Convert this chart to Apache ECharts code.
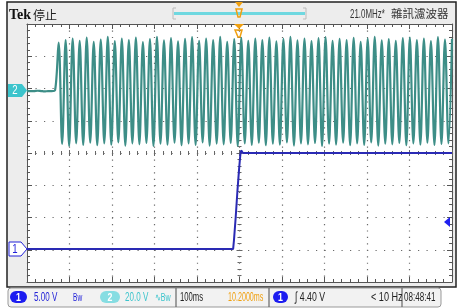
<!DOCTYPE html>
<html>
<head>
<meta charset="utf-8">
<script src="https://cdn.jsdelivr.net/npm/echarts@6/dist/echarts.min.js"></script>
<style>
  html, body { margin: 0; padding: 0; background: #fff; }
  #scope { width: 457px; height: 308px; }
</style>
</head>
<body>
<div id="scope"></div>
<script>
// time axis: 100 ms/div, trigger at centre, values in ms
const timeTicks = [-500, -400, -300, -200, -100, 0, 100, 200, 300, 400, 500]

// channel 1 (5.00 V/div), levels in divisions
const ch1Time = [-500, -15, -13, -9, -5, -1, 2, 4, 8, 500]
const ch1Level = [-2.98, -2.98, -2.7, -2.0, -1.2, -0.5, -0.05, 0.08, 0.0, 0.0]

// channel 2 (20.0 V/div), one sample per half cycle, in divisions
const ch2Level = [
  1.92, 1.92, 1.92, 1.93, 1.92, 1.91, 1.92, 1.92, 1.95,
  3.42, 0.28, 3.5, 0.22, 3.55, 0.3, 3.48, 0.25, 3.58, 0.32, 3.45, 0.24,
  3.52, 0.3, 3.6, 0.26, 3.47, 0.33, 3.55, 0.23, 3.5, 0.3, 3.58, 0.27,
  3.44, 0.31, 3.53, 0.22, 3.6, 0.29, 3.49, 0.26, 3.56, 0.32, 3.46, 0.24,
  3.54, 0.3, 3.59, 0.25, 3.48, 0.33, 3.55, 0.23, 3.5, 0.29, 3.6, 0.27,
  3.45, 0.31, 3.53, 0.22, 3.57, 0.3, 3.48, 0.25, 3.55, 0.32, 3.5, 0.24,
  3.58, 0.29, 3.46, 0.26, 3.54, 0.33, 3.6, 0.23, 3.49, 0.3, 3.55, 0.27,
  3.47, 0.31, 3.56, 0.22, 3.59, 0.29, 3.48, 0.26, 3.54, 0.32, 3.5, 0.24,
  3.57, 0.3, 3.45, 0.25, 3.55, 0.33, 3.6, 0.23, 3.49, 0.29, 3.53, 0.27,
  3.48, 0.31, 3.56, 0.24, 3.58, 0.3, 3.5, 0.26, 3.55, 0.32, 3.47, 0.25,
  3.59, 0.28, 3.52, 0.3, 3.54,
]

const sans = '"Liberation Sans", sans-serif'
const cjk = '"Noto Sans CJK TC", sans-serif'
const blue = '#2222d8'
const cyan = '#3cc4cc'
const orange = '#f0a010'

// text squeezed horizontally, like the scope's condensed readout font
function txt(x, y, text, color, font, sx, align) {
  return {
    type: 'text', x: x, y: y, z: 20, scaleX: sx || 1,
    style: { text: text, fill: color, font: font, textVerticalAlign: 'middle', textAlign: align || 'left' },
  }
}

function pill(x, y, w, fill, label, labelColor) {
  return [
    { type: 'rect', z: 10, shape: { x: x, y: y, width: w, height: 12, r: 6 }, style: { fill: fill } },
    txt(x + w / 2, y + 6.5, label, labelColor, 'bold 11px ' + sans, 0.8, 'center'),
  ]
}

// border axes (ticks on the graticule edge)
function edgeX(pos, grid) {
  return {
    type: 'value', position: pos, min: -500, max: 500, interval: 100,
    axisLine: { show: true, onZero: false, lineStyle: { color: '#555', width: 1 } },
    axisTick: { show: true, inside: true, length: 5, lineStyle: { color: '#555' } },
    minorTick: { show: true, splitNumber: 5, length: 3, lineStyle: { color: '#555' } },
    axisLabel: { show: false },
    splitLine: { show: grid, lineStyle: { color: '#6a6a6a', type: [1.2, 5.25], width: 1.2 } },
  }
}
function edgeY(pos, grid) {
  return {
    type: 'value', position: pos, min: -4, max: 4, interval: 1,
    axisLine: { show: true, onZero: false, lineStyle: { color: '#555', width: 1 } },
    axisTick: { show: true, inside: true, length: 5, lineStyle: { color: '#555' } },
    minorTick: { show: true, splitNumber: 5, length: 3, lineStyle: { color: '#555' } },
    axisLabel: { show: false },
    splitLine: { show: grid, lineStyle: { color: '#6a6a6a', type: [1.2, 7.3], width: 1.2 } },
  }
}
// centre cross axes
function centreX(inside) {
  return {
    type: 'value', position: 'bottom', min: -500, max: 500, interval: 100,
    axisLine: { show: false, onZero: true, onZeroAxisIndex: 0 },
    axisTick: { show: true, inside: inside, length: 3, lineStyle: { color: '#666' } },
    minorTick: { show: true, splitNumber: 5, length: 2, lineStyle: { color: '#666' } },
    axisLabel: { show: false }, splitLine: { show: false },
  }
}
function centreY(inside) {
  return {
    type: 'value', position: 'left', min: -4, max: 4, interval: 1,
    axisLine: { show: false, onZero: true, onZeroAxisIndex: 0 },
    axisTick: { show: true, inside: inside, length: 3, lineStyle: { color: '#666' } },
    minorTick: { show: true, splitNumber: 5, length: 2, lineStyle: { color: '#666' } },
    axisLabel: { show: false }, splitLine: { show: false },
  }
}

const chart = echarts.init(document.getElementById('scope'))
chart.setOption({
  animation: false,
  backgroundColor: '#ffffff',
  grid: {
    left: 27, top: 24, width: 425, height: 258,
    show: true, backgroundColor: '#ffffff', borderWidth: 0,
    outerBoundsMode: 'none',
  },
  xAxis: [
    edgeX('bottom', true),
    edgeX('top', false),
    centreX(true),
    centreX(false),
    { type: 'category', show: false, boundaryGap: false, data: ch2Level.map((_, i) => i) },
  ],
  yAxis: [
    edgeY('left', true),
    edgeY('right', false),
    centreY(true),
    centreY(false),
  ],
  series: [
    {
      name: 'CH2', type: 'line', xAxisIndex: 4, yAxisIndex: 0,
      data: ch2Level, symbol: 'none', z: 3, smooth: 0.35,
      lineStyle: { color: '#3d8e87', width: 2.2 },
    },
    {
      name: 'CH1', type: 'line', xAxisIndex: 0, yAxisIndex: 0,
      data: ch1Time.map((t, i) => [t, ch1Level[i]]), symbol: 'none', z: 4,
      lineStyle: { color: '#2a2ab4', width: 2 },
    },
  ],
  graphic: [
    // instrument frame
    { type: 'rect', z: -10, shape: { x: 7, y: 2, width: 449, height: 285 },
      style: { fill: '#ededed', stroke: '#222', lineWidth: 1.5 } },
    // top status line
    txt(9, 15, 'Tek', '#111', 'bold 14px "Liberation Serif", serif'),
    txt(33, 15, '停止', '#222', '12px ' + cjk),
    { type: 'rect', z: 10, shape: { x: 174, y: 12, width: 131, height: 3 }, style: { fill: '#6fd8e0' } },
    { type: 'polyline', z: 10, shape: { points: [[176, 8], [173, 8], [173, 19], [176, 19]] }, style: { stroke: '#bbb', fill: null } },
    { type: 'polyline', z: 10, shape: { points: [[303, 8], [306, 8], [306, 19], [303, 19]] }, style: { stroke: '#bbb', fill: null } },
    { type: 'polygon', z: 11, shape: { points: [[235, 2], [243, 2], [239, 7]] }, style: { fill: orange } },
    { type: 'polygon', z: 11, shape: { points: [[236, 9], [242, 9], [240, 17], [238, 17]] }, style: { fill: null, stroke: orange, lineWidth: 1.5 } },
    txt(350, 15, '21.0MHz*', '#333', '12px ' + sans, 0.66),
    txt(391, 14, '雜訊濾波器', '#333', '11.5px ' + cjk),
    // trigger position marker on the graticule
    { type: 'polygon', z: 11, shape: { points: [[234, 24], [244, 24], [239, 29]] }, style: { fill: orange } },
    { type: 'polygon', z: 11, shape: { points: [[235, 30], [242, 30], [240, 37], [238, 37]] }, style: { fill: null, stroke: orange, lineWidth: 1.5 } },
    // channel markers
    { type: 'polygon', z: 11, shape: { points: [[8, 84], [22, 84], [27, 90.5], [22, 97], [8, 97]] }, style: { fill: cyan } },
    txt(15, 91, '2', '#fff', '12px ' + sans, 0.8, 'center'),
    { type: 'polygon', z: 11, shape: { points: [[9, 242], [21, 242], [27, 249], [21, 256], [9, 256]] }, style: { fill: '#fff', stroke: blue, lineWidth: 1 } },
    txt(15, 249.5, '1', blue, '12px ' + sans, 0.8, 'center'),
    // trigger level marker
    { type: 'polygon', z: 11, shape: { points: [[444, 222], [450, 217], [450, 227]] }, style: { fill: '#2020f0' } },
    // bottom readout bar
    { type: 'rect', z: -5, shape: { x: 8, y: 288, width: 433, height: 19, r: 3 }, style: { fill: '#f2f2f2', stroke: '#999', lineWidth: 1 } },
    { type: 'line', z: 10, shape: { x1: 176, y1: 288, x2: 176, y2: 307 }, style: { stroke: '#666', lineWidth: 1.2 } },
    { type: 'line', z: 10, shape: { x1: 269, y1: 288, x2: 269, y2: 307 }, style: { stroke: '#666', lineWidth: 1.2 } },
    { type: 'line', z: 10, shape: { x1: 402, y1: 288, x2: 402, y2: 307 }, style: { stroke: '#666', lineWidth: 1.2 } },
    ...pill(10, 291, 17, '#1c1cf0', '1', '#fff'),
    txt(34, 297.5, '5.00 V', blue, '13px ' + sans, 0.62),
    txt(73, 297.5, 'Bw', blue, '11px ' + sans, 0.6),
    ...pill(100, 291, 20, '#86dde2', '2', '#fff'),
    txt(125, 297.5, '20.0 V', cyan, '13px ' + sans, 0.62),
    txt(155, 297.5, '∿Bw', cyan, '11px ' + sans, 0.65),
    txt(180, 297.5, '100ms', '#222', '13px ' + sans, 0.59),
    txt(228, 297.5, '10.2000ms', orange, '13px ' + sans, 0.55),
    ...pill(273, 291, 15, '#1c1cf0', '1', '#fff'),
    txt(295, 297.5, '∫ 4.40 V', '#222', '13px ' + sans, 0.67),
    txt(371, 297.5, '< 10 Hz', '#222', '13px ' + sans, 0.7),
    txt(404, 297.5, '08:48:41', '#222', '13px ' + sans, 0.62),
  ],
})
</script>
</body>
</html>
